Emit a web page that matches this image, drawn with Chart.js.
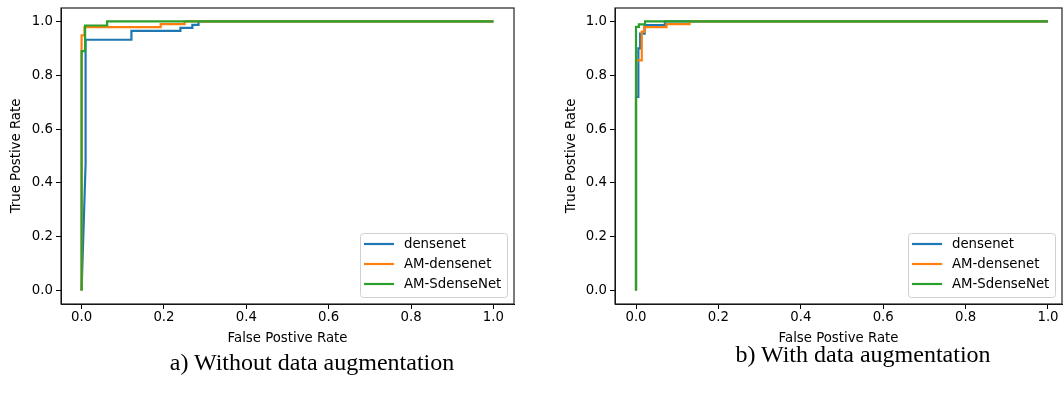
<!DOCTYPE html>
<html>
<head>
<meta charset="utf-8">
<script src="https://cdn.jsdelivr.net/npm/chart.js@4.4.0/dist/chart.umd.min.js"></script>
<style>
  html, body { margin: 0; padding: 0; background: #fff; }
  body { width: 1064px; height: 395px; position: relative; overflow: hidden; }
  canvas { position: absolute; top: 0; }
  .caption {
    position: absolute;
    font-family: "Liberation Serif", "Times New Roman", serif;
    font-size: 24px;
    line-height: 28px;
    color: #000;
    white-space: nowrap;
    transform: translateX(-50%);
  }
</style>
</head>
<body>
<canvas id="rocA" width="540" height="350" style="left:0px"></canvas>
<canvas id="rocB" width="509" height="350" style="left:555px"></canvas>
<div class="caption" style="left:312px; top:348px;">a) Without data augmentation</div>
<div class="caption" style="left:863px; top:340px;">b) With data augmentation</div>
<script>
const xTitle = "False Postive Rate";
const yTitle = "True Postive Rate";
const seriesNames = ["densenet", "AM-densenet", "AM-SdenseNet"];
const axisTicks = [0, 0.2, 0.4, 0.6, 0.8, 1.0];

// a) without data augmentation
const fprDenseA = [0, 0.0097, 0.0097, 0.121, 0.121, 0.240, 0.240, 0.269, 0.269, 0.284, 0.284, 1.0];
const tprDenseA = [0, 0.47, 0.932, 0.932, 0.965, 0.965, 0.976, 0.976, 0.987, 0.987, 1.0, 1.0];
const fprAmDenseA = [0, 0, 0.007, 0.007, 0.192, 0.192, 0.25, 0.25, 1.0];
const tprAmDenseA = [0, 0.948, 0.948, 0.979, 0.979, 0.99, 0.99, 1.0, 1.0];
const fprAmSdenseA = [0, 0, 0.0085, 0.0085, 0.062, 0.062, 1.0];
const tprAmSdenseA = [0, 0.89, 0.89, 0.985, 0.985, 1.0, 1.0];

// b) with data augmentation
const fprDenseB = [0, 0, 0.0057, 0.0057, 0.01, 0.01, 0.021, 0.021, 0.07, 0.07, 1.0];
const tprDenseB = [0, 0.72, 0.72, 0.9, 0.9, 0.955, 0.955, 0.986, 0.986, 1.0, 1.0];
const fprAmDenseB = [0, 0, 0.014, 0.014, 0.02, 0.02, 0.074, 0.074, 0.13, 0.13, 1.0];
const tprAmDenseB = [0, 0.855, 0.855, 0.962, 0.962, 0.979, 0.979, 0.99, 0.99, 1.0, 1.0];
const fprAmSdenseB = [0, 0, 0.007, 0.007, 0.022, 0.022, 1.0];
const tprAmSdenseB = [0, 0.98, 0.98, 0.989, 0.989, 1.0, 1.0];

const lineColors = ["#1f77b4", "#ff7f0e", "#2ca02c"];
const textFont = { family: "DejaVu Sans", size: 13.3 };

// matplotlib style box around the plot
const framePlugin = {
  id: "frame",
  afterDatasetsDraw(chart) {
    const { ctx, chartArea: a } = chart;
    ctx.save();
    ctx.strokeStyle = "#222";
    ctx.lineWidth = 1.2;
    ctx.strokeRect(a.left, a.top, a.right - a.left, a.bottom - a.top);
    ctx.restore();
  }
};

// legend in lower right corner, drawn from the datasets
const legendPlugin = {
  id: "boxLegend",
  afterDraw(chart) {
    const { ctx, chartArea: a } = chart;
    const sets = chart.data.datasets;
    ctx.save();
    ctx.font = "13.3px 'DejaVu Sans'";
    const textW = Math.max(...sets.map(d => ctx.measureText(d.label).width));
    const w = Math.round(4 + 30 + 10 + textW + 6);
    const h = 64;
    const x0 = Math.round(a.right - 7 - w);
    const y0 = Math.round(a.bottom - 7 - h);
    ctx.beginPath();
    if (ctx.roundRect) ctx.roundRect(x0 + 0.5, y0 + 0.5, w, h, 3);
    else ctx.rect(x0 + 0.5, y0 + 0.5, w, h);
    ctx.fillStyle = "rgba(255,255,255,0.8)";
    ctx.fill();
    ctx.strokeStyle = "#d0d0d0";
    ctx.lineWidth = 1;
    ctx.stroke();
    sets.forEach((d, i) => {
      const yy = y0 + 11 + i * 20;
      ctx.strokeStyle = d.borderColor;
      ctx.lineWidth = 2.2;
      ctx.beginPath();
      ctx.moveTo(x0 + 4, yy);
      ctx.lineTo(x0 + 34, yy);
      ctx.stroke();
      ctx.fillStyle = "#000";
      ctx.textBaseline = "middle";
      ctx.fillText(d.label, x0 + 44, yy + 1);
    });
    ctx.restore();
  }
};

function rocChart(id, fprs, tprs, xMin, xMax, yAxisWidth, rightPad) {
  const datasets = seriesNames.map((name, i) => ({
    label: name,
    data: fprs[i].map((x, k) => ({ x: x, y: tprs[i][k] })),
    borderColor: lineColors[i],
    backgroundColor: lineColors[i],
    borderWidth: 2.2,
    pointRadius: 0,
    tension: 0,
    fill: false,
    order: seriesNames.length - 1 - i
  }));

  return new Chart(document.getElementById(id), {
    type: "line",
    data: { datasets: datasets },
    options: {
      responsive: false,
      animation: false,
      events: [],
      layout: { padding: { left: 0, top: 8, right: rightPad, bottom: 0 } },
      plugins: { legend: { display: false }, tooltip: { enabled: false } },
      scales: {
        x: {
          type: "linear",
          min: xMin,
          max: xMax,
          afterBuildTicks: s => { s.ticks = axisTicks.map(v => ({ value: v })); },
          afterFit: s => { s.height = 46; s.paddingLeft = 0; s.paddingRight = 0; },
          ticks: { callback: v => v.toFixed(1), color: "#000", font: textFont, padding: 1, maxRotation: 0, autoSkip: false },
          grid: { drawOnChartArea: false, tickLength: 5, tickColor: "#000" },
          border: { color: "#000" },
          title: { display: true, text: xTitle, color: "#000", font: textFont, padding: { top: 0, bottom: 3 } }
        },
        y: {
          type: "linear",
          min: -0.05,
          max: 1.05,
          afterBuildTicks: s => { s.ticks = axisTicks.map(v => ({ value: v })); },
          afterFit: s => { s.width = yAxisWidth; s.paddingTop = 0; s.paddingBottom = 0; },
          ticks: { callback: v => v.toFixed(1), color: "#000", font: textFont, padding: 3, autoSkip: false },
          grid: { drawOnChartArea: false, tickLength: 5, tickColor: "#000" },
          border: { color: "#000" },
          title: { display: true, text: yTitle, color: "#000", font: textFont, padding: { top: 9, bottom: 0 } }
        }
      }
    },
    plugins: [framePlugin, legendPlugin]
  });
}

rocChart("rocA",
  [fprDenseA, fprAmDenseA, fprAmSdenseA],
  [tprDenseA, tprAmDenseA, tprAmSdenseA],
  -0.05, 1.05, 61, 26);

rocChart("rocB",
  [fprDenseB, fprAmDenseB, fprAmSdenseB],
  [tprDenseB, tprAmDenseB, tprAmSdenseB],
  -0.051, 1.034, 60, 2);
</script>
</body>
</html>
